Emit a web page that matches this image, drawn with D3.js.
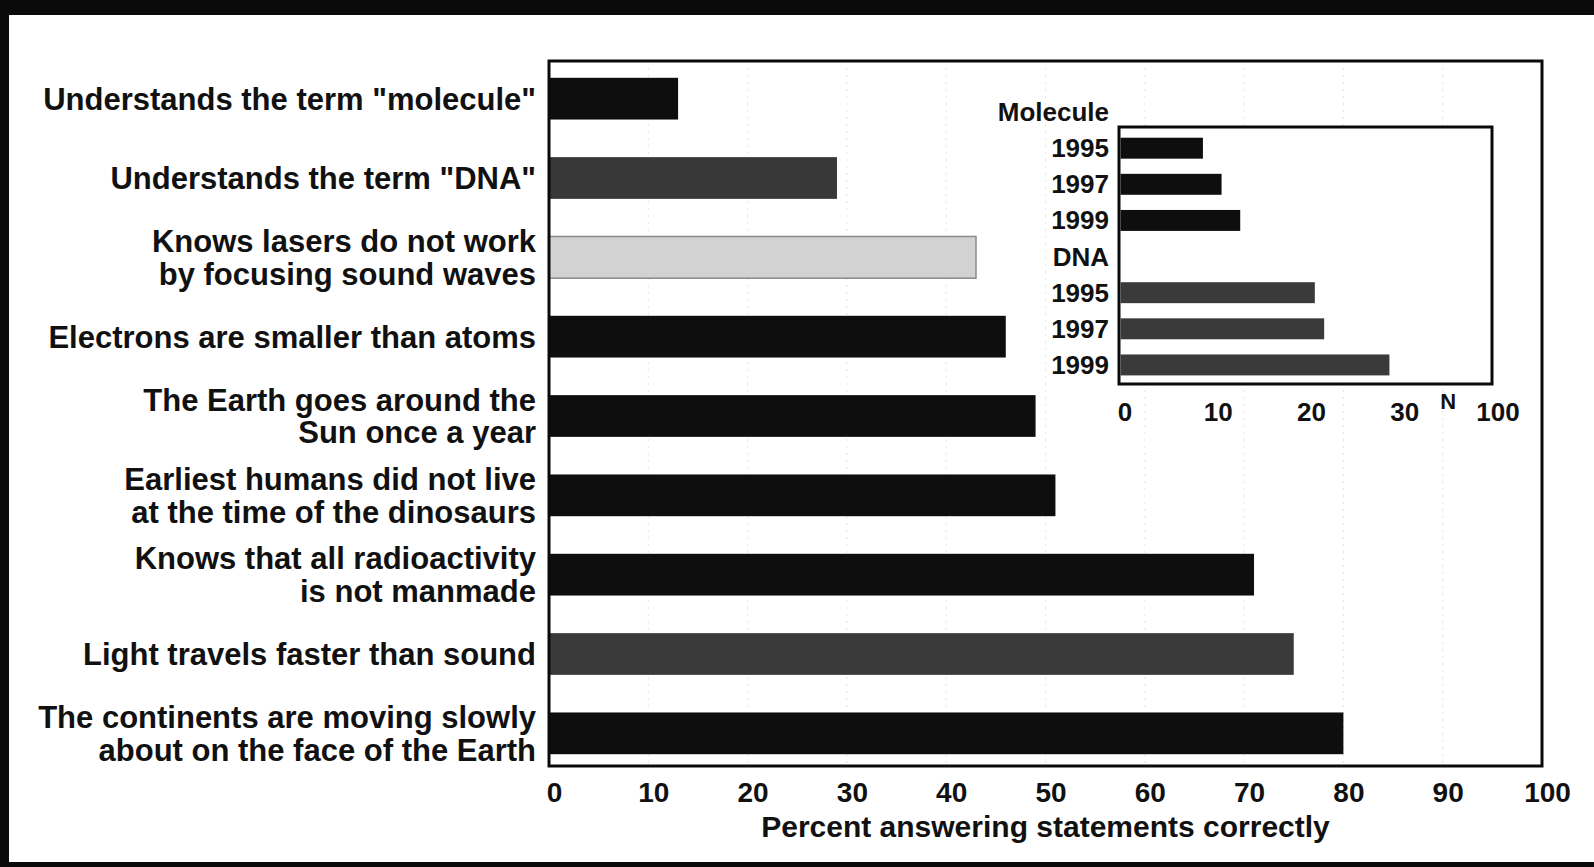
<!DOCTYPE html>
<html>

<head>
    <meta charset="utf-8">
    <title>Science literacy</title>
    <script src="https://d3js.org/d3.v7.min.js"></script>
    <style>
        body { margin: 0; background: #fff; }
        text { font-family: "Liberation Sans", Arial, sans-serif; font-weight: bold; fill: #111; }
    </style>
</head>

<body>
    <div id='view'></div>

    <script>
        // data
        var categories = [
            'Understands the term "molecule"',
            'Understands the term "DNA"',
            'Knows lasers do not work\nby focusing sound waves',
            'Electrons are smaller than atoms',
            'The Earth goes around the\nSun once a year',
            'Earliest humans did not live\nat the time of the dinosaurs',
            'Knows that all radioactivity\nis not manmade',
            'Light travels faster than sound',
            'The continents are moving slowly\nabout on the face of the Earth'
        ];
        var percents = [13, 29, 43, 46, 49, 51, 71, 75, 80];
        var xTicks = [0, 10, 20, 30, 40, 50, 60, 70, 80, 90, 100];

        var insetGroups = ["Molecule", "DNA"];
        var insetYears = ["1995", "1997", "1999"];
        var moleculeValues = [9, 11, 13];
        var dnaValues = [21, 22, 29];
        var insetTickValues = [0, 10, 20, 30, 40];
        var insetTickLabels = ["0", "10", "20", "30", "100"];
        var insetBreakAt = 35.3;

        var width = 1594;
        var height = 867;

        var svg = d3.select("#view")
            .append("svg")
            .attr("width", width)
            .attr("height", height);

        // scan border
        svg.append("rect").attr("x", 0).attr("y", 0).attr("width", width).attr("height", 15).attr("fill", "#0a0a0a");
        svg.append("rect").attr("x", 0).attr("y", 0).attr("width", 9).attr("height", height).attr("fill", "#0a0a0a");
        svg.append("rect").attr("x", 0).attr("y", 862).attr("width", width).attr("height", 5).attr("fill", "#0a0a0a");

        // main chart
        var pLeft = 549, pRight = 1542, pTop = 61, pBottom = 766;
        var x = d3.scaleLinear().domain([0, 100]).range([pLeft, pRight]);
        var y = d3.scaleBand().domain(categories).range([59, 773])
            .paddingInner(0.474).paddingOuter(0.237);
        var fill = d3.scaleOrdinal().domain(categories)
            .range(["#0e0e0e", "#383838", "#d2d2d2", "#0e0e0e", "#0e0e0e", "#0e0e0e", "#0e0e0e", "#3a3a3a", "#0e0e0e"]);

        svg.append("g").selectAll("line")
            .data(xTicks.slice(1, -1))
            .join("line")
            .attr("x1", d => x(d)).attr("x2", d => x(d))
            .attr("y1", pTop).attr("y2", pBottom)
            .attr("stroke", "#e4e4e4")
            .attr("stroke-dasharray", "2,5");

        svg.append("g").selectAll("rect")
            .data(categories)
            .join("rect")
            .attr("x", x(0))
            .attr("y", d => y(d))
            .attr("width", (d, i) => x(percents[i]) - x(0))
            .attr("height", y.bandwidth())
            .attr("fill", d => fill(d))
            .attr("stroke", (d, i) => i == 2 ? "#8a8a8a" : "none")
            .attr("stroke-width", 1.5);

        svg.append("rect")
            .attr("x", pLeft).attr("y", pTop)
            .attr("width", pRight - pLeft).attr("height", pBottom - pTop)
            .attr("fill", "none").attr("stroke", "#0a0a0a").attr("stroke-width", 3);

        var labels = svg.append("g").selectAll("text")
            .data(categories)
            .join("text")
            .attr("text-anchor", "end")
            .attr("font-size", 31);
        labels.each(function (d) {
            var lines = d.split("\n");
            var cy = y(d) + y.bandwidth() / 2;
            d3.select(this).selectAll("tspan")
                .data(lines)
                .join("tspan")
                .attr("x", 536)
                .attr("y", (l, j) => cy + 11 + (j - (lines.length - 1) / 2) * 32.5)
                .text(l => l);
        });

        var axis = svg.append("g")
            .attr("transform", "translate(0," + pBottom + ")")
            .call(d3.axisBottom(x).tickValues(xTicks).tickSize(0).tickPadding(16));
        axis.select(".domain").remove();
        axis.selectAll("text")
            .attr("font-size", 28)
            .attr("dx", 5)
            .style("font-family", '"Liberation Sans", Arial, sans-serif')
            .style("font-weight", "bold")
            .attr("fill", "#111");

        svg.append("text")
            .attr("x", (pLeft + pRight) / 2)
            .attr("y", 837)
            .attr("text-anchor", "middle")
            .attr("font-size", 30)
            .text("Percent answering statements correctly");

        // inset
        var iLeft = 1119, iRight = 1492, iTop = 127, iBottom = 384;
        var rows = [];
        insetGroups.forEach(function (g, gi) {
            var vals = gi == 0 ? moleculeValues : dnaValues;
            rows.push({ key: g, label: g, value: null, group: g });
            insetYears.forEach(function (yr, k) {
                rows.push({ key: g + yr, label: yr, value: vals[k], group: g });
            });
        });

        var ix = d3.scaleLinear().domain([0, 40]).range([iLeft, iRight]);
        var iy = d3.scaleBand().domain(rows.map(r => r.key)).range([94, 383])
            .paddingInner(0.42).paddingOuter(0.21);
        var ifill = d3.scaleOrdinal().domain(insetGroups).range(["#0e0e0e", "#3a3a3a"]);

        svg.append("rect")
            .attr("x", iLeft).attr("y", iTop)
            .attr("width", iRight - iLeft).attr("height", iBottom - iTop)
            .attr("fill", "#fff").attr("stroke", "#0a0a0a").attr("stroke-width", 3);

        svg.append("g").selectAll("rect")
            .data(rows.filter(r => r.value != null))
            .join("rect")
            .attr("x", ix(0) + 1.5)
            .attr("y", r => iy(r.key))
            .attr("width", r => ix(r.value) - ix(0) - 1.5)
            .attr("height", iy.bandwidth())
            .attr("fill", r => ifill(r.group));

        svg.append("g").selectAll("text")
            .data(rows)
            .join("text")
            .attr("x", 1109)
            .attr("y", r => iy(r.key) + iy.bandwidth() / 2 + 9)
            .attr("text-anchor", "end")
            .attr("font-size", 26)
            .text(r => r.label);

        svg.append("g").selectAll("text")
            .data(insetTickValues)
            .join("text")
            .attr("x", d => ix(d) + 6)
            .attr("y", 421)
            .attr("text-anchor", "middle")
            .attr("font-size", 26)
            .text((d, i) => insetTickLabels[i]);

        svg.append("text")
            .attr("x", ix(insetBreakAt))
            .attr("y", 409)
            .attr("text-anchor", "middle")
            .attr("font-size", 22)
            .text("N");
    </script>

</body>

</html>
